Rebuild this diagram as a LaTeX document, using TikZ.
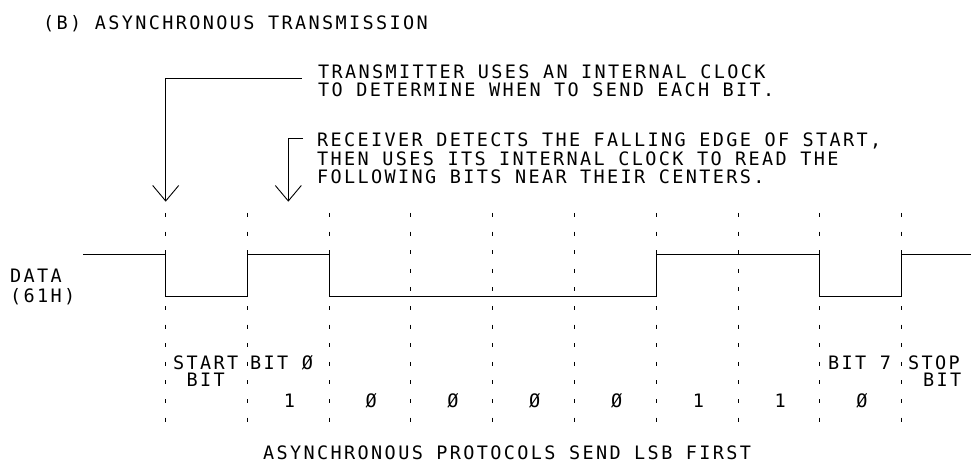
\documentclass[tikz,border=0pt]{standalone}
\usepackage{fontspec}
\setmonofont{DejaVu Sans Mono}[LetterSpace=12.8]
\usetikzlibrary{arrows.meta}
\begin{document}
\begin{tikzpicture}[x=1pt,y=-1pt,
  lbl/.style={font=\ttfamily\fontsize{18.5}{18.5}\selectfont, inner sep=0pt, anchor=base west, text depth=0pt},
  wave/.style={line width=0.9pt, line join=miter},
  grid/.style={line width=0.9pt, dash pattern=on 4pt off 14.6pt},
  lead/.style={line width=0.9pt, -{Straight Barb[length=15.5pt, width=26pt, line width=0.9pt]}}]
\useasboundingbox (0,0) rectangle (971,462);
% bit boundaries
\foreach \i in {0,...,9} {
  \coordinate (t\i) at ({165.5+81.8*\i},213);
  \coordinate (b\i) at ({165.5+81.8*\i},422);
  \draw[grid] (t\i) -- (b\i);
}
% waveform
\coordinate (w0) at (83,254);
\coordinate (w1) at (971,254);
\draw[wave] (w0) -- (165.5,254) -- (165.5,296) -- (247.3,296) -- (247.3,254)
  -- (329.1,254) -- (329.1,296) -- (656.3,296) -- (656.3,254) -- (819.9,254)
  -- (819.9,296) -- (901.7,296) -- (901.7,254) -- (w1);
% title
\node[lbl] (title) at (43,30) {(B) ASYNCHRONOUS TRANSMISSION};
% transmitter note
\node[lbl] (tx1) at (318,78.5) {TRANSMITTER USES AN INTERNAL CLOCK};
\node[lbl] (tx2) at (318,97) {TO DETERMINE WHEN TO SEND EACH BIT.};
\coordinate (txs) at (301.7,78);
\coordinate (txt) at (165.7,201.7);
\draw[lead] (txs) -| (txt);
% receiver note
\node[lbl] (rx1) at (317,147) {RECEIVER DETECTS THE FALLING EDGE OF START,};
\node[lbl] (rx2) at (317,165.5) {THEN USES ITS INTERNAL CLOCK TO READ THE};
\node[lbl] (rx3) at (317,184) {FOLLOWING BITS NEAR THEIR CENTERS.};
\coordinate (rxs) at (303,138);
\coordinate (rxt) at (288.3,201.7);
\draw[lead] (rxs) -| (rxt);
% data label
\node[lbl] (data1) at (10,283) {DATA};
\node[lbl] (data2) at (10,302) {(61H)};
% cell labels
\node[lbl] (start1) at (173,369.5) {START};
\node[lbl] (start2) at (186.5,386) {BIT};
\node[lbl] (bit0) at (250,369.5) {BIT Ø};
\node[lbl] (bit7) at (828,369.5) {BIT 7};
\node[lbl] (stop1) at (908,369.5) {STOP};
\node[lbl] (stop2) at (923,386) {BIT};
\foreach \i/\v in {1/1,2/Ø,3/Ø,4/Ø,5/Ø,6/1,7/1,8/Ø} {
  \node[lbl, anchor=base] (v\i) at ({165.5+81.8*\i+40.9+1.2},407) {\v};
}
% footer
\node[lbl] (foot) at (263,459.5) {ASYNCHRONOUS PROTOCOLS SEND LSB FIRST};
\end{tikzpicture}
\end{document}
